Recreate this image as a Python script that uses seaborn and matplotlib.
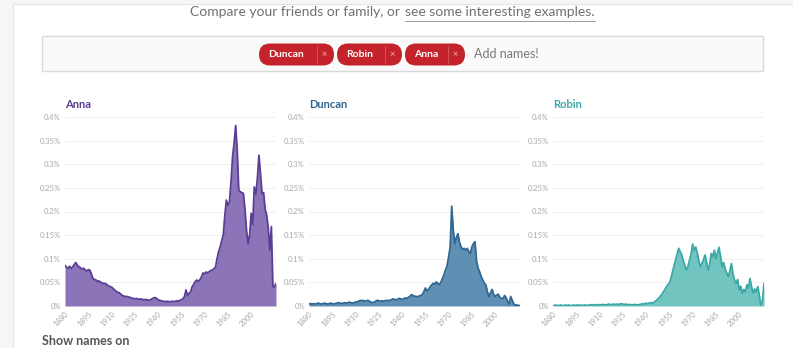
import matplotlib
matplotlib.use("Agg")
import numpy as np
import pandas as pd
import matplotlib.pyplot as plt
import seaborn as sns
from matplotlib.patches import FancyBboxPatch, Rectangle
from matplotlib.lines import Line2D
from matplotlib.ticker import FuncFormatter

# ---- data: share of births (%) per year ----
years = list(range(1880, 2017))

anna = [
    0.086, 0.082, 0.080, 0.084, 0.079, 0.083, 0.088, 0.092, 0.086, 0.083,
    0.081, 0.078, 0.080, 0.076, 0.074, 0.077, 0.076, 0.068, 0.058, 0.056,
    0.055, 0.052, 0.053, 0.050, 0.049, 0.047, 0.048, 0.045, 0.043, 0.041,
    0.040, 0.037, 0.034, 0.031, 0.029, 0.028, 0.025, 0.022, 0.021, 0.020,
    0.020, 0.019, 0.018, 0.017, 0.016, 0.015, 0.016, 0.015, 0.014, 0.015,
    0.014, 0.013, 0.014, 0.013, 0.012, 0.013, 0.015, 0.017, 0.018, 0.016,
    0.013, 0.012, 0.011, 0.010, 0.010, 0.009, 0.010, 0.009, 0.009, 0.010,
    0.009, 0.010, 0.011, 0.010, 0.012, 0.013, 0.015, 0.020, 0.034, 0.022,
    0.027, 0.030, 0.041, 0.046, 0.052, 0.055, 0.052, 0.056, 0.062, 0.070,
    0.068, 0.072, 0.070, 0.073, 0.075, 0.076, 0.079, 0.082, 0.100, 0.115,
    0.125, 0.138, 0.150, 0.190, 0.224, 0.213, 0.220, 0.262, 0.315, 0.345,
    0.382, 0.330, 0.245, 0.242, 0.240, 0.238, 0.205, 0.160, 0.132, 0.150,
    0.196, 0.172, 0.252, 0.236, 0.270, 0.319, 0.280, 0.238, 0.240, 0.205,
    0.192, 0.165, 0.118, 0.168, 0.041, 0.040, 0.048,
]

duncan = [
    0.004, 0.005, 0.004, 0.005, 0.004, 0.005, 0.006, 0.005, 0.004, 0.005,
    0.006, 0.005, 0.004, 0.005, 0.006, 0.005, 0.004, 0.005, 0.006, 0.007,
    0.006, 0.005, 0.006, 0.007, 0.006, 0.007, 0.008, 0.007, 0.006, 0.007,
    0.008, 0.009, 0.010, 0.012, 0.011, 0.012, 0.010, 0.011, 0.012, 0.010,
    0.008, 0.007, 0.008, 0.010, 0.012, 0.011, 0.010, 0.011, 0.010, 0.011,
    0.012, 0.011, 0.012, 0.013, 0.015, 0.014, 0.013, 0.014, 0.016, 0.015,
    0.014, 0.015, 0.017, 0.016, 0.018, 0.020, 0.024, 0.022, 0.021, 0.020,
    0.020, 0.021, 0.022, 0.024, 0.030, 0.038, 0.032, 0.035, 0.040, 0.044,
    0.048, 0.046, 0.051, 0.048, 0.045, 0.050, 0.058, 0.066, 0.076, 0.085,
    0.104, 0.125, 0.211, 0.160, 0.132, 0.145, 0.153, 0.135, 0.125, 0.120,
    0.122, 0.118, 0.122, 0.115, 0.111, 0.125, 0.132, 0.136, 0.095, 0.080,
    0.072, 0.062, 0.055, 0.048, 0.045, 0.030, 0.020, 0.028, 0.035, 0.025,
    0.020, 0.023, 0.025, 0.018, 0.016, 0.015, 0.022, 0.018, 0.010, 0.004,
    0.020, 0.012, 0.004, 0.002, 0.002, 0.001, 0.001,
]

robin = [
    0.001, 0.001, 0.002, 0.001, 0.001, 0.002, 0.001, 0.001, 0.002, 0.001,
    0.002, 0.001, 0.001, 0.002, 0.001, 0.002, 0.002, 0.001, 0.002, 0.001,
    0.002, 0.002, 0.001, 0.002, 0.002, 0.003, 0.002, 0.002, 0.003, 0.002,
    0.003, 0.002, 0.003, 0.003, 0.002, 0.003, 0.004, 0.003, 0.003, 0.004,
    0.003, 0.004, 0.003, 0.004, 0.005, 0.004, 0.003, 0.004, 0.003, 0.003,
    0.003, 0.002, 0.003, 0.003, 0.002, 0.003, 0.003, 0.004, 0.005, 0.004,
    0.006, 0.005, 0.006, 0.007, 0.006, 0.008, 0.010, 0.013, 0.016, 0.020,
    0.024, 0.029, 0.034, 0.040, 0.045, 0.048, 0.058, 0.072, 0.085, 0.097,
    0.110, 0.122, 0.115, 0.108, 0.095, 0.085, 0.076, 0.084, 0.097, 0.110,
    0.131, 0.118, 0.125, 0.112, 0.095, 0.083, 0.090, 0.098, 0.108, 0.092,
    0.076, 0.088, 0.111, 0.104, 0.118, 0.100, 0.112, 0.124, 0.105, 0.083,
    0.092, 0.078, 0.070, 0.062, 0.074, 0.090, 0.068, 0.055, 0.048, 0.056,
    0.034, 0.042, 0.027, 0.035, 0.030, 0.045, 0.038, 0.058, 0.040, 0.027,
    0.036, 0.030, 0.041, 0.022, 0.002, 0.010, 0.048,
]

names = ["Anna", "Duncan", "Robin"]
chip_names = ["Duncan", "Robin", "Anna"]
y_ticks = [0, 0.05, 0.1, 0.15, 0.2, 0.25, 0.3, 0.35, 0.4]
x_ticks = [1880, 1895, 1910, 1925, 1940, 1955, 1970, 1985, 2000]

series = {"Anna": anna, "Duncan": duncan, "Robin": robin}
fill_colors = {"Anna": "#8b75b8", "Duncan": "#5f90b4", "Robin": "#72c4c0"}
line_colors = {"Anna": "#5a3e95", "Duncan": "#2f6690", "Robin": "#3aa9a5"}

df = pd.concat(
    [pd.DataFrame({"year": years, "share": series[n], "name": n}) for n in names],
    ignore_index=True,
)

# ---- figure ----
sns.set_theme(style="white")
plt.rcParams["font.family"] = ["Lato", "DejaVu Sans"]

W, H = 793, 348
fig = plt.figure(figsize=(W / 100, H / 100), dpi=100)
fig.patch.set_facecolor("#f6f6f6")

# page layer in pixel coordinates (origin top-left)
bg = fig.add_axes([0, 0, 1, 1], zorder=-5)
bg.set_xlim(0, W)
bg.set_ylim(H, 0)
bg.axis("off")

bg.add_patch(Rectangle((13, 4), W, H, facecolor="white", edgecolor="#e4e4e4", lw=0.8))

# intro line with underlined link
t1 = bg.text(404, 12, "Compare your friends or family, or ", ha="right", va="center",
             fontsize=10, color="#707070")
t2 = bg.text(405, 12, "see some interesting examples.", ha="left", va="center",
             fontsize=10, color="#707070")

# name input box
bg.add_patch(Rectangle((42, 36), 721, 35, facecolor="#fafafa", edgecolor="#d9d9d9", lw=1.0))

chip_spans = {"Duncan": (259, 334), "Robin": (337, 402), "Anna": (405, 465)}
for n in chip_names:
    x0, x1 = chip_spans[n]
    bg.add_patch(FancyBboxPatch((x0, 43.5), (x1 - x0), 22,
                                boxstyle="round,pad=0,rounding_size=11",
                                facecolor="#c4232b", edgecolor="none"))
    bg.text(x0 + 9, 54.5, n, ha="left", va="center", fontsize=7.5, weight="bold", color="white")
    bg.add_line(Line2D([x1 - 17, x1 - 17], [46, 63], color="#d6595f", lw=0.6))
    bg.text(x1 - 9.5, 54.5, "\u00d7", ha="center", va="center", fontsize=6.5, color="#f0b9bb")

bg.text(474, 54.5, "Add names!", ha="left", va="center", fontsize=9, color="#777777")
bg.text(42, 347, "Show names on", ha="left", va="bottom", fontsize=9, weight="bold", color="#555555")

# ---- small multiples ----
plot_lefts = {"Anna": 65, "Duncan": 309, "Robin": 553}
pw, ph, ptop, pbot = 211, 189, 117, 306

pct = FuncFormatter(lambda v, _: f"{round(v, 2):g}%")

for n in names:
    ax = fig.add_axes([plot_lefts[n] / W, (H - pbot) / H, pw / W, ph / H])
    sub = df[df["name"] == n]
    ax.fill_between(sub["year"], sub["share"], color=fill_colors[n], lw=0, zorder=2)
    sns.lineplot(data=sub, x="year", y="share", ax=ax, color=line_colors[n], lw=1.3, zorder=3)
    ax.set_xlim(1880, 2016)
    ax.set_ylim(0, 0.4)
    ax.set_yticks(y_ticks)
    ax.set_xticks(x_ticks)
    ax.yaxis.set_major_formatter(pct)
    ax.set_xlabel("")
    ax.set_ylabel("")
    ax.set_facecolor("none")
    for s in ax.spines.values():
        s.set_visible(False)
    ax.yaxis.grid(True, color="#ececec", lw=0.6)
    ax.xaxis.grid(False)
    ax.set_axisbelow(True)
    ax.tick_params(axis="both", length=0, labelsize=5.5, colors="#a8a8a8", pad=3)
    plt.setp(ax.get_xticklabels(), rotation=45, ha="right", rotation_mode="anchor")
    ax.text(0, (pbot - 105) / ph, n, transform=ax.transAxes, ha="left", va="center",
            fontsize=8, weight="bold", color=line_colors[n])

# underline the link text
fig.canvas.draw()
bb = t2.get_window_extent()
bg.add_line(Line2D([bb.x0, bb.x1], [21, 21], color="#999999", lw=0.7))

fig.savefig("out.png", dpi=100, facecolor=fig.get_facecolor())
